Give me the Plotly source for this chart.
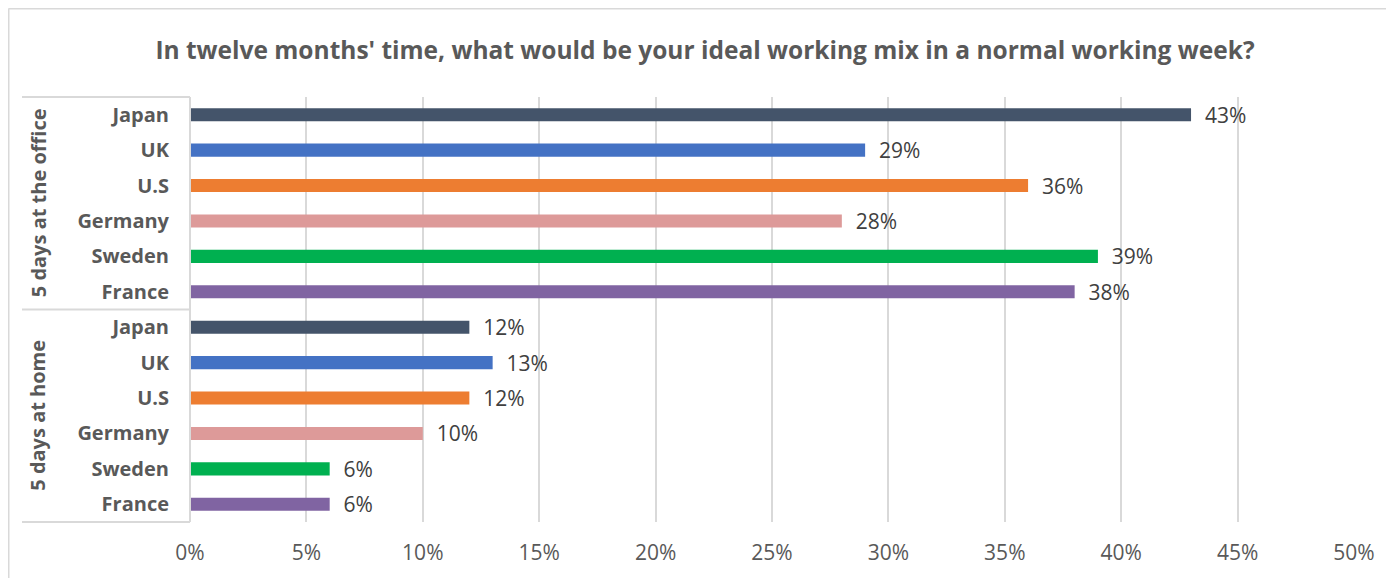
import plotly.graph_objects as go

title = "In twelve months' time, what would be your ideal working mix in a normal working week?"
groups = ["5 days at the office", "5 days at home"]
countries = ["Japan", "UK", "U.S", "Germany", "Sweden", "France"]
office_values = [43, 29, 36, 28, 39, 38]
home_values = [12, 13, 12, 10, 6, 6]
country_colors = ["#44546A", "#4472C4", "#ED7D31", "#DD9A99", "#00B050", "#8064A2"]
x_ticks = [0, 5, 10, 15, 20, 25, 30, 35, 40, 45, 50]

# page body has an 8px margin, so figure coordinates = screen coordinates - 8
W, H = 1386, 570
L, R, T, B = 182, 40, 89, 56
PW, PH = W - L - R, H - T - B
FONT = "Open Sans"
GRAY = "#595959"

ykeys, ylabels, xs, cols = [], [], [], []
for g, vals in zip(groups, [office_values, home_values]):
    for c, v, col in zip(countries, vals, country_colors):
        ykeys.append(f"{g}|{c}")
        ylabels.append(c)
        xs.append(v)
        cols.append(col)

fig = go.Figure()
fig.add_trace(go.Bar(
    x=xs, y=ykeys, orientation="h",
    marker=dict(color=cols, line=dict(width=0)),
    width=0.37,
    text=[f"\u00a0\u00a0{v}%" for v in xs], textposition="outside", constraintext="none",
    textfont=dict(family=FONT, size=21, color="#404040"),
    cliponaxis=False, hoverinfo="skip",
))

fig.update_layout(
    width=W, height=H,
    margin=dict(l=L, r=R, t=T, b=B),
    paper_bgcolor="white", plot_bgcolor="white",
    showlegend=False,
    title=dict(text=f"<b>{title}</b>", x=(705 - 8) / W, xanchor="center", y=1 - 42 / H, yanchor="middle",
               font=dict(family=FONT, size=24.5, color=GRAY)),
    xaxis=dict(range=[0, 50], tickvals=x_ticks, ticktext=[f"{t}%" for t in x_ticks],
               showgrid=True, gridcolor="#D9D9D9", gridwidth=2, zeroline=False,
               showline=False, ticks="", tickfont=dict(family=FONT, size=21, color=GRAY),
               ticklabelstandoff=16, fixedrange=True),
    yaxis=dict(categoryorder="array", categoryarray=ykeys, autorange="reversed",
               tickvals=ykeys, ticktext=[f"<b>{c}</b>" for c in ylabels],
               showgrid=False, zeroline=False, showline=False, ticks="",
               tickfont=dict(family=FONT, size=20, color=GRAY), ticklabelstandoff=20),
    bargap=0.63,
)

line = dict(color="#D9D9D9", width=2)
x0p = (14 - L) / PW
for frac in [0.0, 0.5, 1.0]:
    fig.add_shape(type="line", xref="paper", yref="paper", x0=x0p, x1=0, y0=frac, y1=frac, line=line)
fig.add_shape(type="line", xref="paper", yref="paper", x0=0, x1=0, y0=0, y1=1, line=line)

# outer chart border (top and left)
bx = (0.5 - L) / PW
by = 1 + (T - 0.5) / PH
fig.add_shape(type="line", xref="paper", yref="paper", x0=bx, x1=bx, y0=-B / PH - 0.05, y1=by,
              line=dict(color="#D9D9D9", width=2))
fig.add_shape(type="line", xref="paper", yref="paper", x0=bx, x1=1 + R / PW + 0.05, y0=by, y1=by,
              line=dict(color="#D9D9D9", width=2))

xg = (30 - L) / PW
for i, g in enumerate(groups):
    fig.add_annotation(xref="paper", yref="paper", x=xg, y=0.75 - 0.5 * i,
                       text=f"<b>{g}</b>", textangle=-90, showarrow=False,
                       font=dict(family=FONT, size=20, color=GRAY), xanchor="center", yanchor="middle")

fig.write_html("out.html")
